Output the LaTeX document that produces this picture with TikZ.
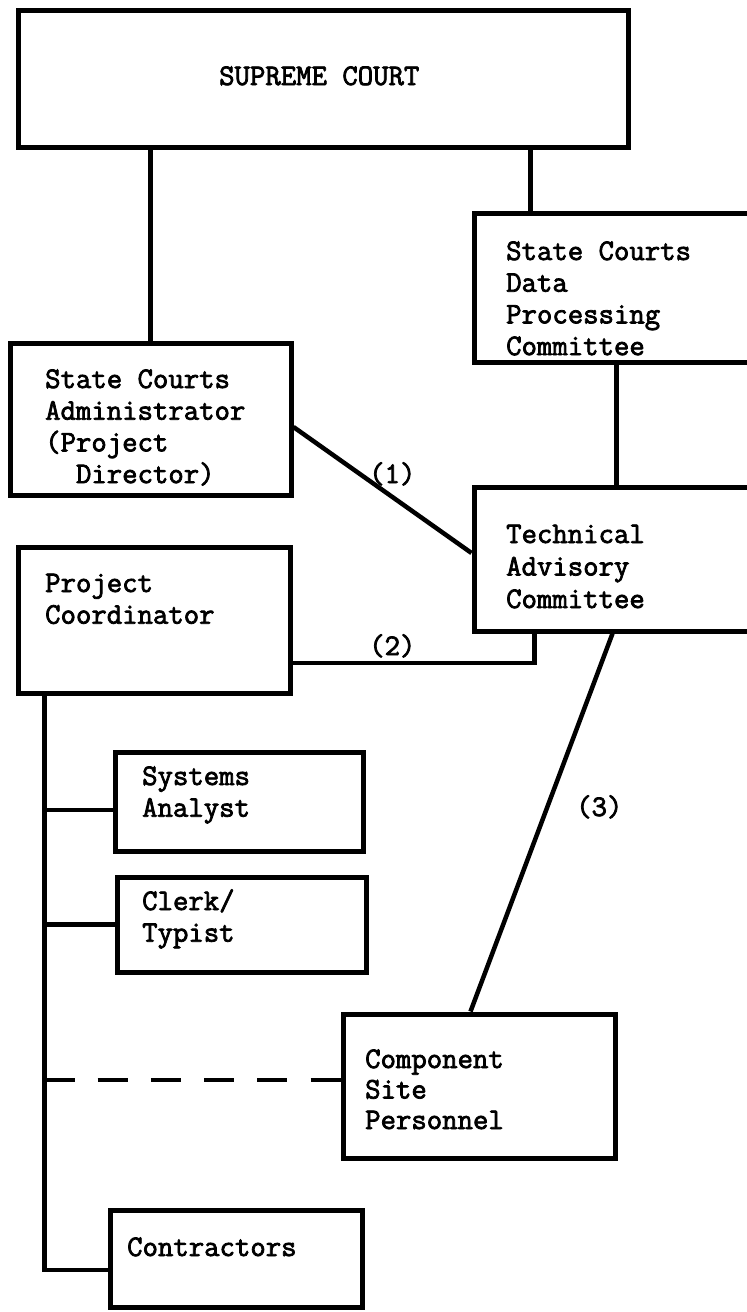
\documentclass[tikz,border=0pt]{standalone}
\usepackage{fontspec}
\usetikzlibrary{calc}
\newcommand\tw{\ttfamily\fontsize{29.9}{31.7}\selectfont\special{pdf:literal direct 2 Tr 0.75 w}}
\newcommand\blk[2]{\vtop{\baselineskip=#1pt\relax #2}}
\begin{document}
\begin{tikzpicture}[x=1pt,y=-1pt,
  box/.style={draw, line width=5pt, rectangle, inner sep=0pt},
  conn/.style={line width=4.5pt},
  lbl/.style={inner sep=0pt, anchor=base west, font=\tw},
]
\useasboundingbox (0,0) rectangle (747,1312);
\fill[white] (0,0) rectangle (747,1312);
\clip (0,0) rectangle (747,1312);

% boxes
\node[box, minimum width=610pt, minimum height=137pt] (sc) at (323,78.5) {};
\node[box, minimum width=316pt, minimum height=149pt] (scdpc) at (632,287.5) {};
\node[box, minimum width=281pt, minimum height=152pt] (sca) at (150.5,419) {};
\node[box, minimum width=316pt, minimum height=144pt] (tac) at (632,559) {};
\node[box, minimum width=272pt, minimum height=146pt] (pc) at (154,620) {};
\node[box, minimum width=248pt, minimum height=99pt] (sa) at (239,801.5) {};
\node[box, minimum width=249pt, minimum height=95pt] (ct) at (241.5,924.5) {};
\node[box, minimum width=272pt, minimum height=144pt] (csp) at (479,1086) {};
\node[box, minimum width=252pt, minimum height=97pt] (con) at (236,1258.5) {};

% texts
\node[lbl] (scT) at (219,85) {SUPREME COURT};
\node[lbl] (scdpcT) at (506,260) {\blk{31.7}{\hbox{State Courts}\hbox{Data}\hbox{Processing}\hbox{Committee}}};
\node[lbl] (scaT) at (45,388) {\blk{31.7}{\hbox{State Courts}\hbox{Administrator}\hbox{(Project}\hbox{\ \ Director)}}};
\node[lbl] (tacT) at (506,543) {\blk{32.5}{\hbox{Technical}\hbox{Advisory}\hbox{Committee}}};
\node[lbl] (pcT) at (45,592) {\blk{31.7}{\hbox{Project}\hbox{Coordinator}}};
\node[lbl] (saT) at (142,785) {\blk{31.7}{\hbox{Systems}\hbox{Analyst}}};
\node[lbl] (ctT) at (142,910) {\blk{31.7}{\hbox{Clerk/}\hbox{Typist}}};
\node[lbl] (cspT) at (365,1068) {\blk{30.5}{\hbox{Component}\hbox{Site}\hbox{Personnel}}};
\node[lbl] (conT) at (127,1256) {Contractors};

% connectors
\draw[conn] (sca.north) -- (sca.north |- sc.south);
\coordinate (scdpcTop) at ([xshift=59pt]scdpc.north west);
\draw[conn] (scdpcTop) -- (scdpcTop |- sc.south);

\coordinate (a1) at ([yshift=-8pt]sca.east);
\coordinate (a2) at ([yshift=6pt]tac.west);
\draw[conn] (a1) -- (a2);
\node[lbl] (l1) at (369,483) {(1)};

\coordinate (c0) at ([xshift=145pt]scdpc.south west);
\draw[conn] (c0) -- (c0 |- tac.north);

\coordinate (b1) at ([yshift=-43pt]pc.east);
\coordinate (b2) at ([xshift=63pt]tac.south west);
\draw[conn] (b1) -| (b2);
\node[lbl] (l2) at (369,655) {(2)};

\coordinate (d1) at ([xshift=141pt]tac.south west);
\coordinate (d2) at ([xshift=130pt]csp.north west);
\draw[conn] (d1) -- (d2);
\node[lbl] (l3) at (576,816) {(3)};

\coordinate (t0) at ([xshift=29pt]pc.south west);
\coordinate (t9) at ([yshift=-11.5pt]con.west);
\draw[conn] (t0) |- (t9);
\coordinate (s1) at ([yshift=-8.5pt]sa.west);
\draw[conn] (s1) -- (s1 -| t0);
\draw[conn] (ct.west) -- (ct.west -| t0);
\coordinate (p1) at ([yshift=6pt]csp.west);
\draw[conn, dash pattern=on 30pt off 23.2pt] (p1 -| t0) -- (p1);
\end{tikzpicture}
\end{document}
